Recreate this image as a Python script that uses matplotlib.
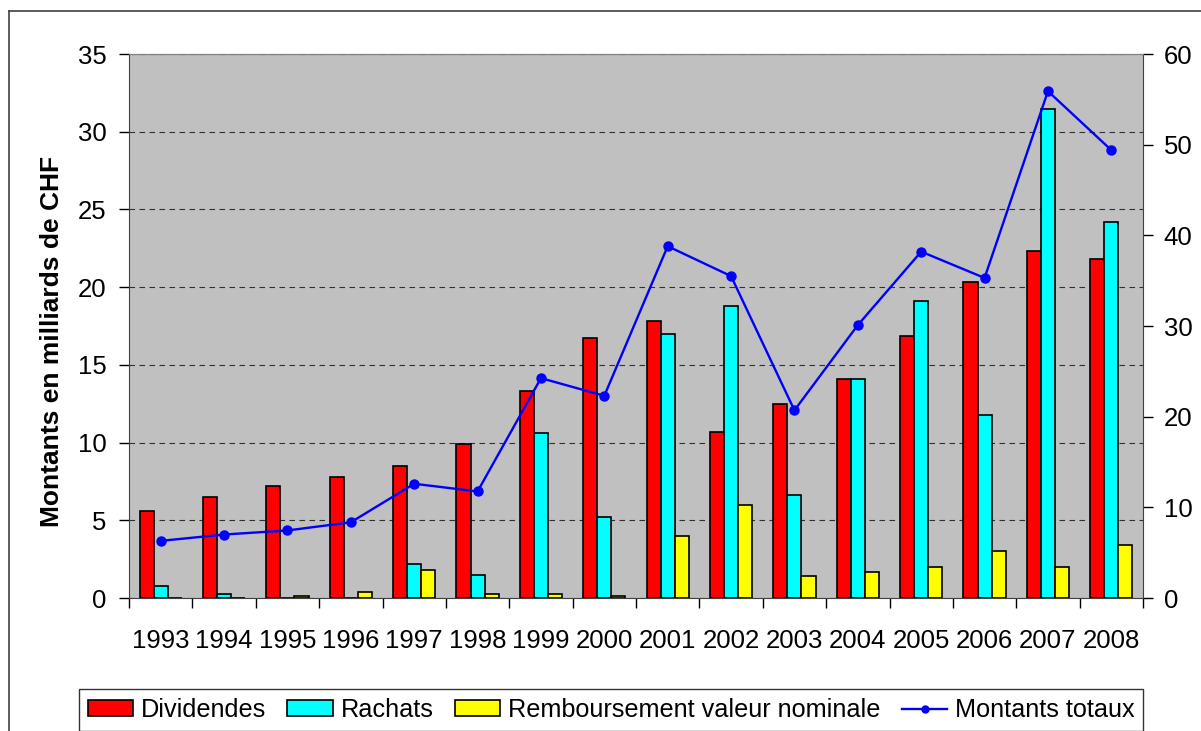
import numpy as np
import matplotlib
matplotlib.use("Agg")
import matplotlib.pyplot as plt
from matplotlib.lines import Line2D
from matplotlib.patches import Patch

plt.rcParams['font.family'] = ['Liberation Sans', 'DejaVu Sans']

years = ['1993', '1994', '1995', '1996', '1997', '1998', '1999', '2000',
         '2001', '2002', '2003', '2004', '2005', '2006', '2007', '2008']
dividendes = [5.6, 6.5, 7.2, 7.8, 8.5, 9.9, 13.3, 16.7,
              17.8, 10.7, 12.5, 14.1, 16.85, 20.3, 22.35, 21.8]
rachats = [0.77, 0.26, 0.0, 0.0, 2.2, 1.45, 10.6, 5.2,
           17.0, 18.8, 6.65, 14.1, 19.1, 11.75, 31.45, 24.2]
remboursement = [0.0, 0.0, 0.1, 0.37, 1.8, 0.26, 0.24, 0.1,
                 4.0, 6.0, 1.42, 1.7, 1.98, 3.0, 1.98, 3.38]
totaux = [6.3, 7.0, 7.45, 8.35, 12.6, 11.75, 24.25, 22.3,
          38.8, 35.5, 20.7, 30.1, 38.2, 35.3, 55.9, 49.4]

fig = plt.figure(figsize=(12.01, 7.31), dpi=100)
ax = fig.add_axes([129/1201, 1 - 598/731, (1143 - 129)/1201, (598 - 54)/731])
ax.set_facecolor('#C0C0C0')

x = np.arange(len(years))
w = 0.222
ax.bar(x - w, dividendes, w, color='#FF0000', edgecolor='black', linewidth=1.2, zorder=3)
ax.bar(x, rachats, w, color='#00FFFF', edgecolor='black', linewidth=1.2, zorder=3)
ax.bar(x + w, remboursement, w, color='#FFFF00', edgecolor='black', linewidth=1.2, zorder=3)

ax.set_ylim(0, 35)
ax.set_yticks(range(0, 36, 5))
ax.set_xlim(-0.5, len(years) - 0.5)
ax.set_xticks(x)
ax.set_xticklabels(years)
ax.set_xticks(np.arange(-0.5, len(years), 1), minor=True)
ax.tick_params(axis='x', which='major', length=0, pad=22, labelsize=18.5)
ax.tick_params(axis='x', which='minor', length=7, width=1, direction='out')
ax.tick_params(axis='y', length=7, width=1, pad=9, labelsize=18.5)
ax.yaxis.grid(True, linestyle=(0, (5, 4)), color='#303030', linewidth=0.8, zorder=1)
ax.set_axisbelow(True)
ax.spines['top'].set_color('#808080')
ax.spines['left'].set_color('#404040')
ax.spines['bottom'].set_color('#404040')
ax.spines['right'].set_visible(False)

ax2 = ax.twinx()
ax2.plot(x, totaux, color='#0000FF', linewidth=1.7, marker='o', markersize=6.5, zorder=5)
ax2.set_ylim(0, 60)
ax2.set_yticks(range(0, 61, 10))
ax2.tick_params(axis='y', length=7, width=1, pad=8, labelsize=18.5)
ax2.spines['right'].set_color('#404040')
ax2.spines['top'].set_color('#808080')
ax2.spines['left'].set_visible(False)
ax2.spines['bottom'].set_visible(False)

fig.text(52/1201, 1 - 341/731, 'Montants en milliards de CHF', rotation=90,
         fontsize=19, fontweight='bold', ha='center', va='center')

# chart border (left and top edges visible)
fig.add_artist(Line2D([9/1201, 9/1201], [0, 1 - 11/731], color='#404040', linewidth=1.2))
fig.add_artist(Line2D([9/1201, 1], [1 - 11/731, 1 - 11/731], color='#404040', linewidth=1.2))

handles = [Patch(facecolor='#FF0000', edgecolor='black', linewidth=1.2),
           Patch(facecolor='#00FFFF', edgecolor='black', linewidth=1.2),
           Patch(facecolor='#FFFF00', edgecolor='black', linewidth=1.2),
           Line2D([], [], color='#0000FF', linewidth=1.7, marker='o', markersize=5)]
labels = ['Dividendes', 'Rachats', 'Remboursement valeur nominale', 'Montants totaux']
leg = fig.legend(handles, labels, loc='lower center', bbox_to_anchor=(611/1201, 0.0),
                 ncol=4, fontsize=18.2, frameon=True, fancybox=False, edgecolor='black',
                 handlelength=1.8, handleheight=0.6, handletextpad=0.3, columnspacing=0.85,
                 borderpad=0.35, borderaxespad=0.0)
leg.get_frame().set_linewidth(1.0)

fig.savefig('out.png', dpi=100)
